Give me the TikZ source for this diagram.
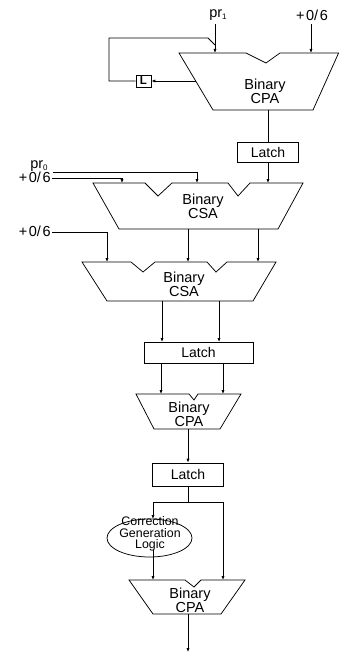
\documentclass[tikz,border=0pt]{standalone}
\usepackage{fontspec}
\setmainfont{Liberation Sans}
\usetikzlibrary{arrows.meta,shapes.geometric}
\begin{document}
\begin{tikzpicture}[x=1pt,y=-1pt,line width=0.75pt,
  arr/.style={-{Latex[length=4pt,width=3.2pt]}},
  txt/.style={font=\fontsize{14.5}{10.5}\selectfont,align=center,inner sep=0pt},
  small/.style={font=\fontsize{12.4}{11.5}\selectfont,align=center,inner sep=0pt},
  latchbox/.style={draw,font=\fontsize{14}{14}\selectfont,inner sep=0pt}]
\useasboundingbox (0,0) rectangle (339,658);
\newcommand{\subs}[1]{{\fontsize{8}{8}\selectfont\raisebox{-2pt}{#1}}}
\newcommand{\zsix}{+\kern1.6pt0/\kern1.6pt6}

% ---------- top CPA ----------
\draw (179,53) -- (246,53) -- (266,63) -- (280,53) -- (338.6,53) -- (313,110) -- (213,110) -- cycle;
\node[txt] (cpa1) at (265,91) {Binary\\CPA};
\coordinate (cpa1in1) at (215,53);
\coordinate (cpa1in2) at (311,53);
\coordinate (cpa1left) at (195.5,81);
\coordinate (cpa1out) at (268,110);
\node[txt] (pr1) at (218,15) {pr\subs{1}};
\node[txt] (c06a) at (312,15) {\zsix};
\coordinate (pr1top) at (215,24);
\coordinate (c06atop) at (311,24);
\draw[arr] (pr1top) -- (cpa1in1);
\draw[arr] (c06atop) -- (cpa1in2);
\node[draw,minimum width=15pt,minimum height=12pt,inner sep=0pt,font=\fontsize{11.5}{11.5}\selectfont\bfseries] (L) at (143.5,81) {L};
\draw[arr] (cpa1left) -- (L.east);
\coordinate (fbjoin) at (215,45);
\draw (L.west) -- (109,81) -- (109,38) -- (208,38) -- (fbjoin);

% ---------- latch 1 ----------
\node[latchbox,minimum width=61pt,minimum height=20pt] (latch1) at (268,152) {Latch};
\draw (cpa1out) -- (latch1.north);

% ---------- CSA 1 ----------
\draw (93,183) -- (145,183) -- (158,196) -- (172,183) -- (228,183) -- (238,196) -- (250,183) -- (303,183) -- (278,229) -- (119,229) -- cycle;
\node[txt] (csa1) at (203,206) {Binary\\CSA};
\coordinate (csa1in1) at (122,183);
\coordinate (csa1in2) at (197,183);
\coordinate (csa1in3) at (268,183);
\draw[arr] (latch1.south) -- (csa1in3);
\node[txt,anchor=base east] (pr0) at (48,168) {pr\subs{0}};
\node[txt,anchor=base east] (c06b) at (51,182) {\zsix};
\draw[arr] (53,172) -- (197,172) -- (csa1in2);
\draw[arr] (52,178) -- (122,178) -- (csa1in1);

% ---------- CSA 2 ----------
\draw (82,262) -- (131,262) -- (143,272) -- (155,262) -- (207,262) -- (216,272) -- (227,262) -- (276,262) -- (253,301) -- (107,301) -- cycle;
\node[txt] (csa2) at (184,284) {Binary\\CSA};
\draw[arr] (188,229) -- (188,262);
\draw[arr] (258,229) -- (258,262);
\node[txt,anchor=base east] (c06c) at (51,236) {\zsix};
\draw[arr] (52,232) -- (107,232) -- (107,262);

% ---------- latch 2 ----------
\node[latchbox,minimum width=109pt,minimum height=21pt] (latch2) at (198.5,352.5) {Latch};
\draw[arr] (162,301) -- (162,342);
\draw[arr] (219,301) -- (219,342);

% ---------- CPA 2 ----------
\draw (136,394) -- (189,394) -- (194,400) -- (198,394) -- (241,394) -- (220,429) -- (154,429) -- cycle;
\node[txt] (cpa2) at (189,414) {Binary\\CPA};
\draw[arr] (161,363) -- (161,394);
\draw[arr] (223,363) -- (223,394);

% ---------- latch 3 ----------
\node[latchbox,minimum width=71pt,minimum height=23pt] (latch3) at (188,474.5) {Latch};
\draw[arr] (188,429) -- (latch3.north);
\coordinate (split) at (188,502);
\draw (latch3.south) -- (split);
\draw (153,502) -- (223,502);

% ---------- correction logic ----------
\node[draw,ellipse,minimum width=85pt,minimum height=38pt,inner sep=0pt] (corr) at (149.5,538) {};
\node[small] (corrtxt) at (150,534) {Correction\\Generation\\Logic};
\draw[arr] (153,502) -- (153,519);

% ---------- CPA 3 ----------
\draw (129,580) -- (185,580) -- (194,587) -- (201,580) -- (245,580) -- (221,614) -- (153,614) -- cycle;
\node[txt] (cpa3) at (190,600) {Binary\\CPA};
\draw[arr] (153,550) -- (153,580);
\draw[arr] (223,502) -- (223,580);
\draw[arr] (188,614) -- (188,652);
\end{tikzpicture}
\end{document}
